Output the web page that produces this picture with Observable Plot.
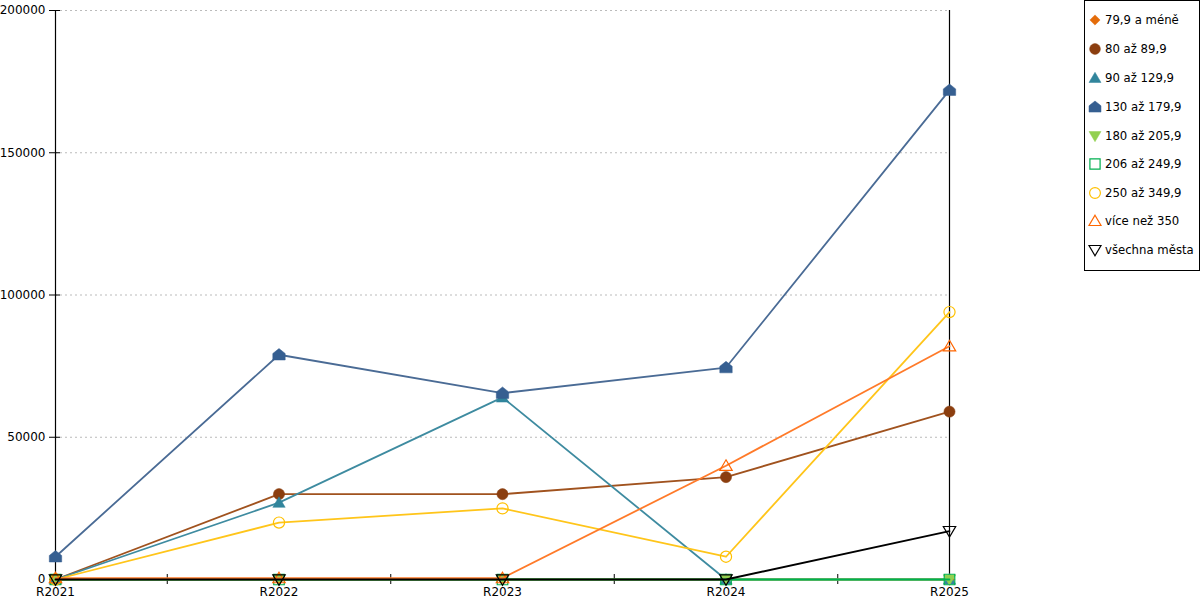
<!DOCTYPE html>
<html><head><meta charset="utf-8">
<script src="https://cdn.jsdelivr.net/npm/d3@7"></script>
<script src="https://cdn.jsdelivr.net/npm/@observablehq/plot@0.6"></script>
<style>
body{margin:0;background:#fff;font-family:"DejaVu Sans",sans-serif;}
#wrap{position:relative;width:1200px;height:600px;}
#legend{position:absolute;left:1084px;top:0;width:114px;height:269px;border:1px solid #000;background:#fff;font-size:11.7px;}
#legend .item{position:absolute;left:4px;height:14px;display:flex;align-items:center;white-space:nowrap;}
#legend svg{margin-right:4px;overflow:visible;}
</style></head>
<body><div id="wrap"><div id="chart"></div><div id="legend"></div></div>
<script>
const years = ["R2021","R2022","R2023","R2024","R2025"];
const seriesNames = ["79,9 a méně","80 až 89,9","90 až 129,9","130 až 179,9","180 až 205,9","206 až 249,9","250 až 349,9","více než 350","všechna města"];
const s79  = [0,0,0,0,0];
const s80  = [0,30000,30000,36000,59000];
const s90  = [0,27000,64000,0,0];
const s130 = [8000,79000,65500,74500,172000];
const s180 = [0,0,0,0,0];
const s206 = [0,0,0,0,0];
const s250 = [0,20000,25000,8000,94000];
const s350 = [500,500,500,40000,82000];
const sAll = [0,0,0,0,17000];
const yTicks = [0,50000,100000,150000,200000];

const lineColors   = ["#E46C0A","#A0521E","#3E8BA0","#4A6B95","#92D050","#00B050","#FFC51A","#FF7A29","#000000"];
const markerColors = ["#E46C0A","#8B3E0F","#31859C","#365F91","#92D050","#00B050","#FFC000","#FF6600","#000000"];
const filled = [true,true,true,true,true,false,false,false,false];

function mk(pathFn){return {draw(ctx,size){const r=Math.sqrt(size/Math.PI);pathFn(ctx,r);ctx.closePath();}};}
const symDiamond = mk((c,r)=>{c.moveTo(0,-r*0.85);c.lineTo(r*0.85,0);c.lineTo(0,r*0.85);c.lineTo(-r*0.85,0);});
const symCircle = mk((c,r)=>{c.moveTo(r*0.9,0);c.arc(0,0,r*0.9,0,2*Math.PI);});
const symTri = mk((c,r)=>{c.moveTo(0,-r*0.95);c.lineTo(r,r*0.75);c.lineTo(-r,r*0.75);});
const symHouse = mk((c,r)=>{c.moveTo(0,-r);c.lineTo(r,-r*0.2);c.lineTo(r,r*0.85);c.lineTo(-r,r*0.85);c.lineTo(-r,-r*0.2);});
const symDown = mk((c,r)=>{c.moveTo(-r,-r*0.75);c.lineTo(r,-r*0.75);c.lineTo(0,r*0.95);});
const symSquare = mk((c,r)=>{c.moveTo(-r*0.85,-r*0.85);c.lineTo(r*0.85,-r*0.85);c.lineTo(r*0.85,r*0.85);c.lineTo(-r*0.85,r*0.85);});
const symbols = [symDiamond,symCircle,symTri,symHouse,symDown,symSquare,symCircle,symTri,symDown];

const allValues = [s79,s80,s90,s130,s180,s206,s250,s350,sAll];
const data = [];
allValues.forEach((vals,si)=>vals.forEach((v,i)=>data.push({s:si,x:i,y:v})));

const marks = [
  Plot.gridY(yTicks.filter(d=>d>0),{stroke:"#bbb",strokeOpacity:1,strokeDasharray:"2,3"}),
  Plot.ruleX([0,4],{stroke:"#000",strokeWidth:1.2}),
  Plot.ruleY([0],{stroke:"#000",strokeWidth:1.2}),
  Plot.ruleY(yTicks,{x1:0,x2:0,insetLeft:-6,insetRight:-5,stroke:"#000"}),
  Plot.ruleX([0,0.5,1,1.5,2,2.5,3,3.5,4],{y1:0,y2:0,insetTop:-5,insetBottom:-5,stroke:"#000"}),
  Plot.axisY({ticks:yTicks,tickSize:0,tickPadding:10,tickFormat:d=>String(d),label:null,fontSize:12}),
  Plot.axisX({ticks:[0,1,2,3,4],tickSize:0,tickPadding:8,tickFormat:i=>years[i],label:null,fontSize:12})
];
allValues.forEach((vals,si)=>{
  const d = data.filter(r=>r.s===si);
  marks.push(Plot.line(d,{x:"x",y:"y",stroke:lineColors[si],strokeWidth:1.8}));
  marks.push(Plot.dot(d,{x:"x",y:"y",r:6.2,symbol:()=>symbols[si],
    fill: filled[si]?markerColors[si]:"none",
    stroke: markerColors[si], strokeWidth: filled[si]?0.5:1.2}));
});
const chart = Plot.plot({
  width:1200,height:600,
  marginLeft:55,marginRight:251,marginTop:10,marginBottom:21,
  style:{fontFamily:"DejaVu Sans",fontSize:"12px",color:"#000",background:"#fff"},
  x:{type:"linear",domain:[0,4],axis:null},
  y:{domain:[0,200000],axis:null},
  marks
});
document.getElementById("chart").appendChild(chart);

// legend
const leg = d3.select("#legend");
const legY = [19,48,77,106,135,163,192,220,249];
seriesNames.forEach((name,si)=>{
  const it = leg.append("div").attr("class","item").style("top",(legY[si]-7)+"px");
  const sv = it.append("svg").attr("width",12).attr("height",12);
  const p = d3.path(); symbols[si].draw(p,Math.PI*36);
  sv.append("path").attr("transform","translate(6,6)").attr("d",p.toString())
    .attr("fill",filled[si]?markerColors[si]:"none").attr("stroke",markerColors[si]).attr("stroke-width",filled[si]?0.5:1.2);
  it.append("span").text(name);
});
</script></body></html>
